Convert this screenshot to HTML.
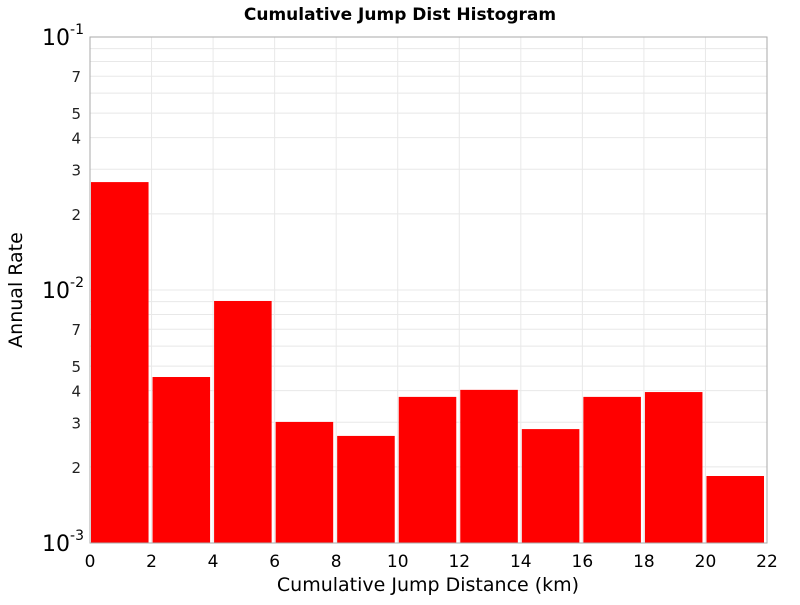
<!DOCTYPE html>
<html><head><meta charset="utf-8"><style>
body{margin:0;background:#fff;}
svg text{font-family:"DejaVu Sans","Liberation Sans",sans-serif;}
</style></head><body>
<svg id="chart" width="800" height="600" xmlns="http://www.w3.org/2000/svg">
<text x="400" y="20" text-anchor="middle" font-size="17" font-weight="bold">Cumulative Jump Dist Histogram</text>
<g id="grid"></g>
<g id="bars"></g>
<rect x="90" y="37" width="677" height="506" fill="none" stroke="#aaa" stroke-width="1"/>
<g id="yticks"></g>
<g id="xticks"></g>
<text x="428" y="591" text-anchor="middle" font-size="19">Cumulative Jump Distance (km)</text>
<text transform="translate(22,290) rotate(-90)" text-anchor="middle" font-size="19">Annual Rate</text>
</svg>
<script>
const binStarts=[0,2,4,6,8,10,12,14,16,18,20];
const binWidth=2;
const rates=[0.0267,0.00453,0.00905,0.00301,0.00265,0.00378,0.00403,0.00282,0.00378,0.00395,0.00184];
const xTicks=[0,2,4,6,8,10,12,14,16,18,20,22];
const yMinorLabels=[2,3,4,5,7];
const L=90,R=767,T=37,B=543,xMin=0,xMax=22,lMin=-3,lMax=-1;
const NS="http://www.w3.org/2000/svg";
const xs=v=>L+(v-xMin)/(xMax-xMin)*(R-L);
const ys=v=>B-(Math.log10(v)-lMin)/(lMax-lMin)*(B-T);
function mk(tag,attrs,parent){const e=document.createElementNS(NS,tag);for(const k in attrs)e.setAttribute(k,attrs[k]);document.getElementById(parent).appendChild(e);return e;}
// grid
for(let d=lMin;d<lMax;d++){for(let m=1;m<10;m++){const v=m*Math.pow(10,d);const y=ys(v);
 const g=mk('line',{x1:L,x2:R,y1:y,y2:y,stroke:'#e8e8e8','stroke-width':1},'grid');
 
 
 if(m===1){const t=mk('text',{x:L-6,y:y+8,'text-anchor':'end','font-size':22},'yticks');t.textContent='10';
  
  
  const s=mk('tspan',{dy:-11,'font-size':14},'yticks');s.textContent=String(d);t.appendChild(s);}
 else if(yMinorLabels.includes(m)){const t=mk('text',{x:L-9,y:y+6,'text-anchor':'end','font-size':15,fill:'#222'},'yticks');t.textContent=String(m);
  
  }
}}
{const t=mk('text',{x:L-6,y:ys(0.1)+8,'text-anchor':'end','font-size':22},'yticks');t.textContent='10';
 
 
 const s=mk('tspan',{dy:-11,'font-size':14},'yticks');s.textContent=String(lMax);t.appendChild(s);}
xTicks.forEach(v=>{const x=xs(v);
 const g=mk('line',{x1:x,x2:x,y1:T,y2:B,stroke:'#e8e8e8','stroke-width':1},'grid');
 
 
 const t=mk('text',{x:x,y:B+24,'text-anchor':'middle','font-size':17},'xticks');t.textContent=String(v);
 
 
});
binStarts.forEach((s,i)=>{const x0=xs(s)+1,x1=xs(s+binWidth)-3;const y=ys(rates[i]);
 const r=mk('rect',{x:x0,y:y,width:x1-x0,height:B-y,fill:'#ff0000'},'bars');
 
 
});
</script>
</body></html>
